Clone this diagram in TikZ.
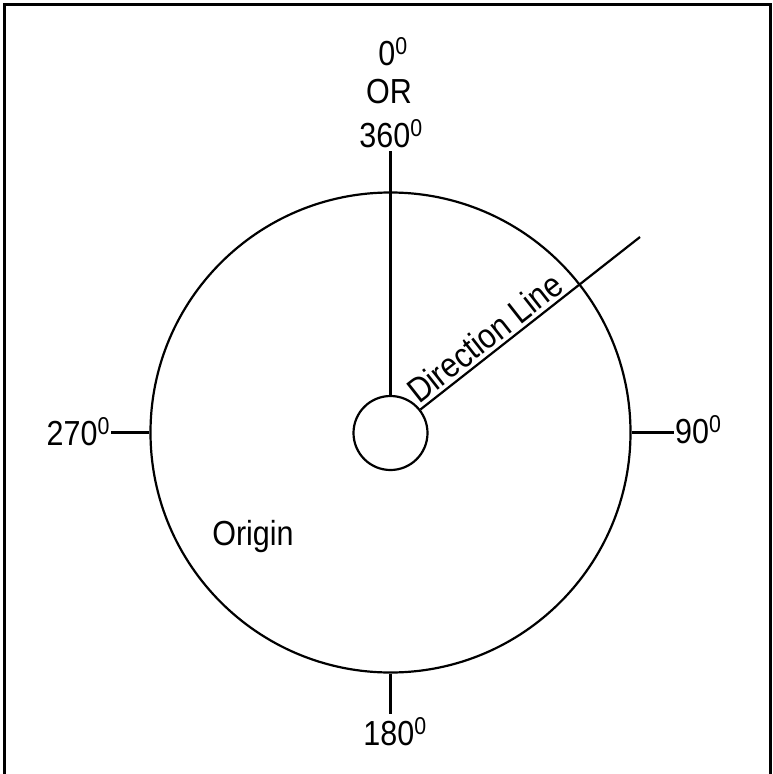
\documentclass[tikz,border=0pt]{standalone}
\usepackage{fontspec}
\setmainfont{Liberation Sans}

\newcommand{\tall}[1]{\scalebox{1}[1.14]{#1}}

\begin{document}
\begin{tikzpicture}[x=1pt, y=-1pt, line width=2.2pt,
	every node/.style={font=\fontsize{30.5}{40}\selectfont, inner sep=0pt},
	ring/.style={circle, draw, line width=2.2pt}]
	\useasboundingbox (0,0) rectangle (772,774);
	% frame (open at the bottom)
	\draw[line width=3pt] (4.5,774) -- (4.5,4.5) -- (770.5,4.5) -- (770.5,774);
	% dial
	\node[ring, minimum size=480pt] (dial) at (390.5,432.5) {};
	\node[ring, minimum size=74pt] (hub) at (390.5,433) {};
	% bearings
	\node[anchor=base] (deg0) at (393,65) {\tall{0\textsuperscript{0}}};
	\node[anchor=base] (degor) at (389,103) {\tall{OR}};
	\node[anchor=base] (deg360) at (391,147) {\tall{360\textsuperscript{0}}};
	\node[anchor=base west] (deg90) at (674,443) {\tall{90\textsuperscript{0}}};
	\node[anchor=base] (deg180) at (395,745) {\tall{180\textsuperscript{0}}};
	\node[anchor=base east] (deg270) at (111,445) {\tall{270\textsuperscript{0}}};
	\path (deg360.base) ++(0,4) coordinate (end360);
	\path (deg180.north) ++(0,-3) coordinate (end180);
	\draw (hub.north) -- (hub.north |- end360);
	\draw (dial.east) -- (dial.east -| deg90.west);
	\draw (dial.south) -- (dial.south |- end180);
	\draw (dial.west) -- (dial.west -| deg270.east);
	% direction line
	\coordinate (tip) at (640,237);
	\draw (hub) -- (tip) node[pos=0.34, sloped, above=3pt] (dirlabel) {\tall{Direction Line}};
	\node[anchor=base] (origin) at (253,545) {\tall{Origin}};
\end{tikzpicture}
\end{document}
